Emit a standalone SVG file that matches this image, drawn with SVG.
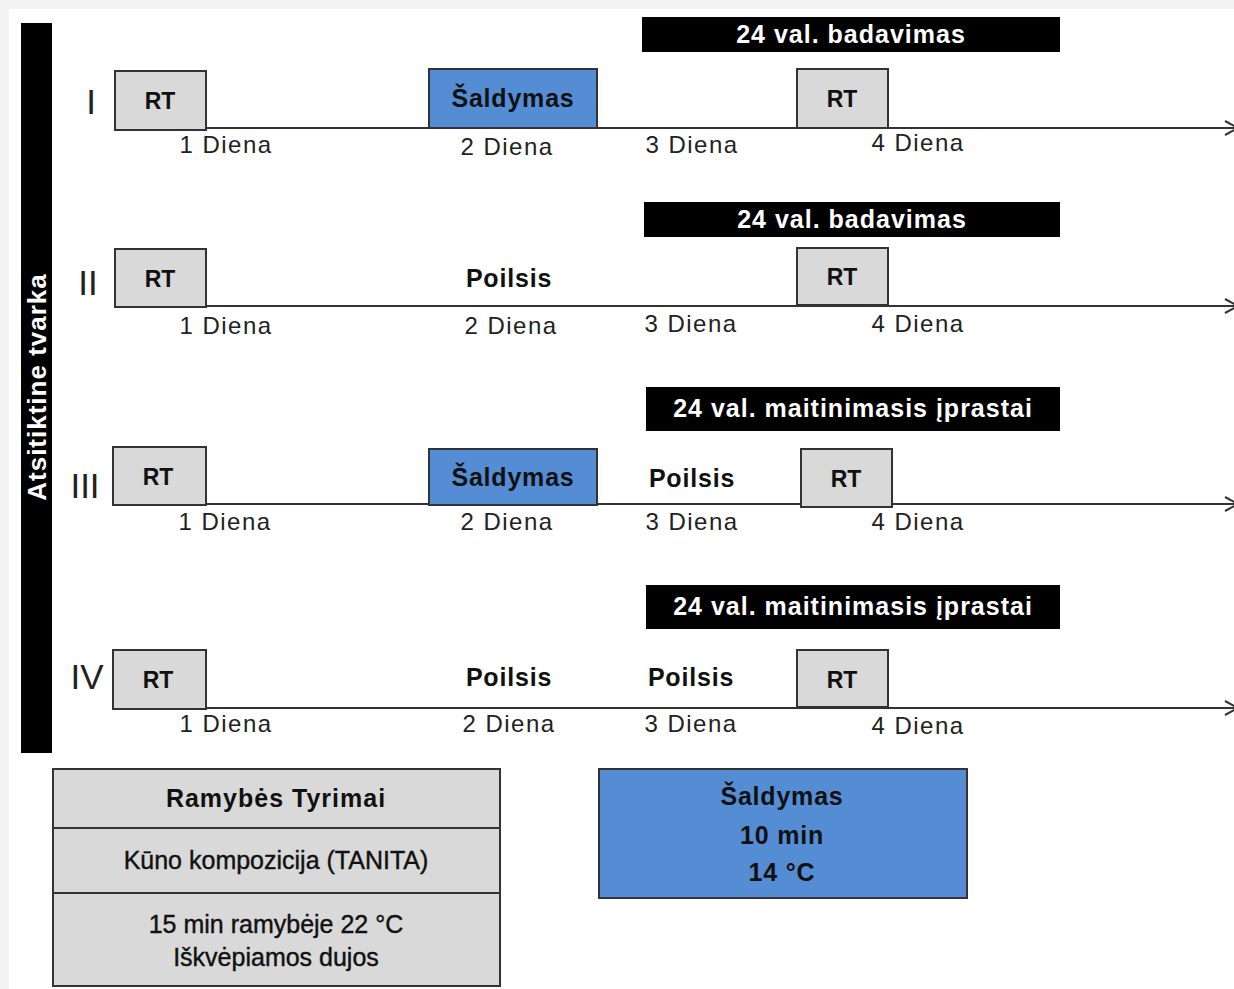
<svg xmlns="http://www.w3.org/2000/svg" width="1234" height="989" viewBox="0 0 1234 989">
<style>
text{font-family:"Liberation Sans",Arial,sans-serif;}
.box{fill:#d9d9d9;stroke:#333;stroke-width:2;}
.blue{fill:#548dd4;stroke:#333;stroke-width:2;}
.band{fill:#000;}
.bt{fill:#fff;font-weight:bold;font-size:25px;text-anchor:middle;letter-spacing:1px;}
.rt{fill:#111;font-weight:bold;font-size:23px;text-anchor:middle;}
.bl{fill:#111;font-weight:bold;font-size:25px;text-anchor:middle;letter-spacing:0.8px;}
.day{fill:#222;font-size:24px;text-anchor:middle;letter-spacing:1.5px;}
.rom{fill:#222;font-size:35px;text-anchor:middle;}
.ln{stroke:#333;stroke-width:2;fill:none;}
.lg{fill:#111;font-size:25px;text-anchor:middle;}
</style>
<defs>
<marker id="arr" markerWidth="16" markerHeight="16" refX="14" refY="8" orient="auto" markerUnits="userSpaceOnUse">
<path d="M1,1 L14,8 L1,15" fill="none" stroke="#333" stroke-width="2"/>
</marker>
</defs>
<rect x="0" y="0" width="1234" height="989" fill="#f4f4f4"/>
<rect x="9" y="9" width="1225" height="980" fill="#fff"/>

<g id="side-bar">
<rect x="21" y="23" width="31" height="730" fill="#000"/>
<text transform="translate(46,387) rotate(-90)" fill="#fff" font-weight="bold" font-size="26" text-anchor="middle" letter-spacing="1">Atsitiktine tvarka</text>
</g>

<g id="connectors">
<line class="ln" x1="206" y1="128" x2="1238" y2="128" marker-end="url(#arr)"/>
<line class="ln" x1="206" y1="306" x2="1238" y2="306" marker-end="url(#arr)"/>
<line class="ln" x1="206" y1="504" x2="1238" y2="504" marker-end="url(#arr)"/>
<line class="ln" x1="206" y1="708" x2="1238" y2="708" marker-end="url(#arr)"/>
</g>

<g id="row1">
<text class="rom" x="91" y="114">I</text>
<g id="r1-band"><rect class="band" x="642" y="17" width="418" height="35"/><text class="bt" x="851" y="43">24 val. badavimas</text></g>
<g id="r1-rt1"><rect class="box" x="115" y="71" width="91" height="59"/><text class="rt" x="160" y="109">RT</text></g>
<g id="r1-sald"><rect class="blue" x="429" y="69" width="168" height="59"/><text class="bl" x="513" y="107">Šaldymas</text></g>
<g id="r1-rt2"><rect class="box" x="797" y="69" width="91" height="59"/><text class="rt" x="842" y="107">RT</text></g>
<text class="day" x="226" y="153">1 Diena</text>
<text class="day" x="507" y="155">2 Diena</text>
<text class="day" x="692" y="153">3 Diena</text>
<text class="day" x="918" y="151">4 Diena</text>
</g>

<g id="row2">
<text class="rom" x="88" y="295">II</text>
<g id="r2-band"><rect class="band" x="644" y="202" width="416" height="35"/><text class="bt" x="852" y="228">24 val. badavimas</text></g>
<g id="r2-rt1"><rect class="box" x="115" y="249" width="91" height="58"/><text class="rt" x="160" y="287">RT</text></g>
<text class="bl" x="509" y="287">Poilsis</text>
<g id="r2-rt2"><rect class="box" x="797" y="248" width="91" height="57"/><text class="rt" x="842" y="285">RT</text></g>
<text class="day" x="226" y="334">1 Diena</text>
<text class="day" x="511" y="334">2 Diena</text>
<text class="day" x="691" y="332">3 Diena</text>
<text class="day" x="918" y="332">4 Diena</text>
</g>

<g id="row3">
<text class="rom" x="85" y="498">III</text>
<g id="r3-band"><rect class="band" x="646" y="387" width="414" height="44"/><text class="bt" x="853" y="417">24 val. maitinimasis įprastai</text></g>
<g id="r3-rt1"><rect class="box" x="113" y="447" width="93" height="58"/><text class="rt" x="158" y="485">RT</text></g>
<g id="r3-sald"><rect class="blue" x="429" y="449" width="168" height="56"/><text class="bl" x="513" y="486">Šaldymas</text></g>
<text class="bl" x="692" y="487">Poilsis</text>
<g id="r3-rt2"><rect class="box" x="801" y="449" width="91" height="58"/><text class="rt" x="846" y="487">RT</text></g>
<text class="day" x="225" y="530">1 Diena</text>
<text class="day" x="507" y="530">2 Diena</text>
<text class="day" x="692" y="530">3 Diena</text>
<text class="day" x="918" y="530">4 Diena</text>
</g>

<g id="row4">
<text class="rom" x="87" y="689">IV</text>
<g id="r4-band"><rect class="band" x="646" y="585" width="414" height="44"/><text class="bt" x="853" y="615">24 val. maitinimasis įprastai</text></g>
<g id="r4-rt1"><rect class="box" x="113" y="650" width="93" height="59"/><text class="rt" x="158" y="688">RT</text></g>
<text class="bl" x="509" y="686">Poilsis</text>
<text class="bl" x="691" y="686">Poilsis</text>
<g id="r4-rt2"><rect class="box" x="797" y="650" width="91" height="57"/><text class="rt" x="842" y="688">RT</text></g>
<text class="day" x="226" y="732">1 Diena</text>
<text class="day" x="509" y="732">2 Diena</text>
<text class="day" x="691" y="732">3 Diena</text>
<text class="day" x="918" y="734">4 Diena</text>
</g>

<g id="legend-rest">
<rect class="box" x="53" y="769" width="447" height="217"/>
<line x1="53" y1="828" x2="500" y2="828" stroke="#333" stroke-width="2"/>
<line x1="53" y1="893" x2="500" y2="893" stroke="#333" stroke-width="2"/>
<text class="lg" x="276" y="807" font-weight="bold" font-size="27" letter-spacing="1">Ramybės Tyrimai</text>
<text class="lg" x="276" y="869" stroke="#111" stroke-width="0.4">Kūno kompozicija (TANITA)</text>
<text class="lg" x="276" y="933" stroke="#111" stroke-width="0.4">15 min ramybėje 22 °C</text>
<text class="lg" x="276" y="966" stroke="#111" stroke-width="0.4">Iškvėpiamos dujos</text>
</g>

<g id="legend-cold">
<rect class="blue" x="599" y="769" width="368" height="129"/>
<text class="bl" x="782" y="805">Šaldymas</text>
<text class="bl" x="782" y="844">10 min</text>
<text class="bl" x="782" y="881">14 °C</text>
</g>
</svg>
